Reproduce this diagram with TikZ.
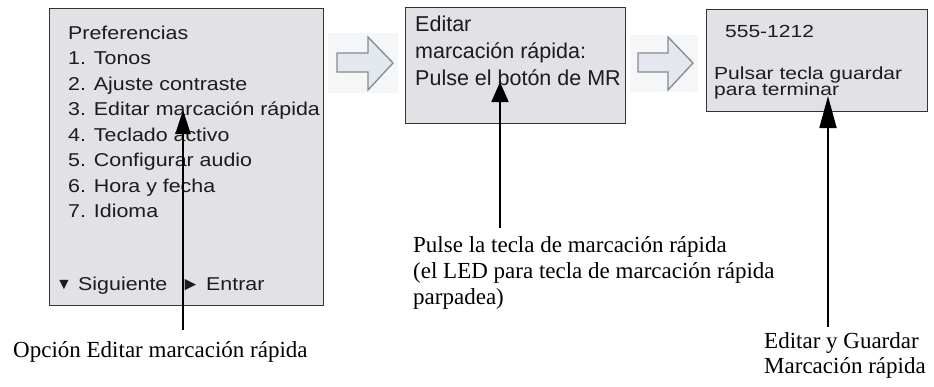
\documentclass[tikz,border=0pt]{standalone}
\usepackage{fontspec}
\setmainfont{Liberation Serif}
\newfontfamily\sansA[FakeStretch=1.15]{Liberation Sans}
\newfontfamily\sansB{Liberation Sans}
\newfontfamily\sansC[FakeStretch=1.2]{Liberation Sans}
\usetikzlibrary{arrows.meta}
\definecolor{boxfill}{HTML}{E1E1E6}
\definecolor{boxline}{HTML}{333333}
\definecolor{boxtext}{HTML}{1C1C1C}
\definecolor{barrowfill}{HTML}{E3E7EE}
\definecolor{barrowline}{HTML}{858A90}
\definecolor{barrowbg}{HTML}{F5F6F8}
\begin{document}
\begin{tikzpicture}[x=1pt,y=-1pt,
  screen/.style={draw=boxline, fill=boxfill, line width=1.2pt, inner sep=0pt, anchor=north west},
  menutext/.style={anchor=base west, inner sep=0pt, text=boxtext, font=\sansA\fontsize{18.6}{22}\selectfont},
  mrtext/.style={anchor=base west, inner sep=0pt, text=boxtext, font=\sansB\fontsize{21.5}{26}\selectfont},
  savetext/.style={anchor=base west, inner sep=0pt, text=boxtext, font=\sansC\fontsize{17.5}{20}\selectfont},
  label/.style={anchor=base west, inner sep=0pt, text=black, font=\fontsize{23}{26}\selectfont},
  pointer/.style={line width=1.8pt, draw=black},
  blockarrow/.style={draw=barrowline, fill=barrowfill, line width=1.3pt, line join=miter},
]
\useasboundingbox (0,0) rectangle (934,386);

% screens
\node[screen, minimum width=274pt, minimum height=297pt] (menu) at (49,8) {};
\node[screen, minimum width=220pt, minimum height=116pt] (mr) at (405,7) {};
\node[screen, minimum width=221pt, minimum height=102pt] (save) at (706,9) {};

% block arrows between screens
\fill[barrowbg] (328,33) rectangle (398,93);
\draw[blockarrow] (337,53) -- (368,53) -- (368,37) -- (393,63) -- (368,90) -- (368,72) -- (337,72) -- cycle;
\fill[barrowbg] (630,35) rectangle (698,92);
\draw[blockarrow] (638,53) -- (668,53) -- (668,37) -- (693,63) -- (668,90) -- (668,72) -- (638,72) -- cycle;

% menu text
\foreach \t [count=\i] in {Preferencias, 1. Tonos, 2. Ajuste contraste, 3. Editar marcación rápida, 4. Teclado activo, 5. Configurar audio, 6. Hora y fecha, 7. Idioma}
  \node[menutext] (m\i) at (68,{39+(\i-1)*25.5}) {\t};
\node[menutext, font=\sansB\fontsize{16}{18}\selectfont] (down) at (56,289) {▼};
\node[menutext] (next) at (78,290) {Siguiente};
\node[menutext, font=\sansB\fontsize{19}{20}\selectfont] (right) at (181,290) {►};
\node[menutext] (enter) at (206,290) {Entrar};

% speed dial screen text
\node[mrtext] (mr1) at (415,31) {Editar};
\node[mrtext] (mr2) at (415,58) {marcación rápida:};
\node[mrtext] (mr3) at (415,85) {Pulse el botón de MR};

% save screen text
\node[savetext] (s1) at (725,37) {555-1212};
\node[savetext] (s2) at (714,79) {Pulsar tecla guardar};
\node[savetext] (s3) at (714,95) {para terminar};

% labels
\node[label] (lab1) at (13,357) {Opción Editar marcación rápida};
\node[label] (lab2a) at (413,252) {Pulse la tecla de marcación rápida};
\node[label] (lab2b) at (413,278) {(el LED para tecla de marcación rápida};
\node[label] (lab2c) at (413,304) {parpadea)};
\node[label] (lab3a) at (764,348) {Editar y Guardar};
\node[label] (lab3b) at (764,373) {Marcación rápida};

% pointers
\coordinate (tail1) at (183,330);
\coordinate (tip1) at (183,110);
\coordinate (tail2) at (500,228);
\coordinate (tip2) at (500,82);
\coordinate (tail3) at (828,327);
\coordinate (tip3) at (828,96);
\draw[pointer, -{Triangle[length=24pt,width=15pt]}] (tail1) -- (tip1);
\draw[pointer, -{Triangle[length=20pt,width=17pt]}] (tail2) -- (tip2);
\draw[pointer, -{Triangle[length=32pt,width=17pt]}] (tail3) -- (tip3);
\end{tikzpicture}
\end{document}
